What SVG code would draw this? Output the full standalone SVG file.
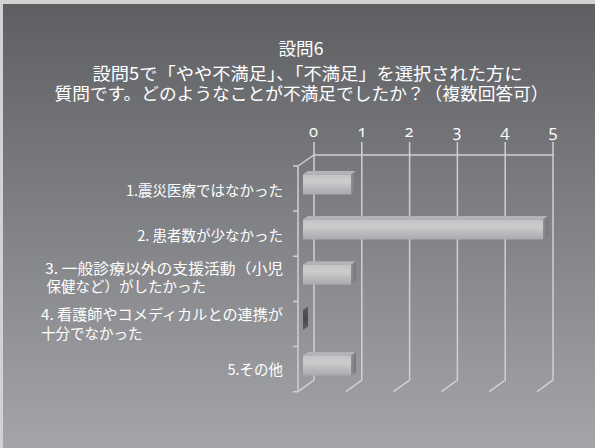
<svg xmlns="http://www.w3.org/2000/svg" width="595" height="448" viewBox="0 0 595 448">
<defs>
<linearGradient id="bg" x1="0" y1="0" x2="0" y2="1">
<stop offset="0" stop-color="#5e5f63"/>
<stop offset="1" stop-color="#a4a5a9"/>
</linearGradient>
<linearGradient id="barFront" x1="0" y1="0" x2="0" y2="1">
<stop offset="0" stop-color="#c2c3c5"/>
<stop offset="0.35" stop-color="#cbcccd"/>
<stop offset="1" stop-color="#a8a9ac"/>
</linearGradient>
<linearGradient id="barSide" x1="0" y1="0" x2="1" y2="0">
<stop offset="0" stop-color="#8e8f92"/>
<stop offset="1" stop-color="#75767a"/>
</linearGradient>
<linearGradient id="zeroBar" x1="0" y1="0" x2="0" y2="1">
<stop offset="0" stop-color="#5a5b5f"/>
<stop offset="0.5" stop-color="#48494d"/>
<stop offset="1" stop-color="#5e5f63"/>
</linearGradient>
<style>
.t{font-family:"Noto Sans CJK JP","Noto Sans",sans-serif;fill:#ffffff;}
.title{font-size:17.6px;text-anchor:middle;}
.lab{font-size:14.5px;}
.num{font-family:"Open Sans","Noto Sans",sans-serif;font-size:16.5px;fill:#ffffff;text-anchor:middle;font-feature-settings:"onum";}
.grid{stroke:#cfd0d2;stroke-width:1.5;fill:none;}
.front{fill:url(#barFront);}
.side{fill:url(#barSide);}
.top{fill:#b3b4b7;}
</style>
</defs>
<rect x="0" y="0" width="595" height="448" fill="#d2d2d2"/>
<rect x="3" y="4" width="592" height="444" fill="url(#bg)"/>

<g id="title">
<text class="t title" x="301" y="55">設問6</text>
<text class="t title" x="307.5" y="80" textLength="430" lengthAdjust="spacingAndGlyphs">設問5で「やや不満足」、「不満足」を選択された方に</text>
<text class="t title" x="301.5" y="100" textLength="494" lengthAdjust="spacingAndGlyphs">質問です。どのようなことが不満足でしたか？（複数回答可）</text>
</g>

<g id="axis-labels">
<text class="num" x="313.5" y="137">0</text>
<text class="num" x="362" y="137">1</text>
<text class="num" x="409" y="137">2</text>
<text class="num" x="457" y="137">3</text>
<text class="num" x="505" y="137">4</text>
<text class="num" x="553" y="137">5</text>
</g>

<g id="connectors">
<path class="grid" d="M314,142V380L298,391.7 M361.8,142V380L345.8,391.7 M409.6,142V380L393.6,391.7 M457.4,142V380L441.4,391.7 M505.2,142V380L489.2,391.7 M553,142V380L537,391.7"/>
<path class="grid" d="M314,155H554 M314,155L298,166 M298,166V391.7"/>
<path class="grid" d="M293,166H298 M293,211.1H298 M293,256.3H298 M293,301.4H298 M293,346.6H298 M293,391.7H298"/>
</g>

<g id="bar1">
<polygon class="top" points="303,174.5 308,171 356,171 351,174.5"/>
<polygon class="side" points="351,174.5 356,171 356,191 351,194.5"/>
<rect class="front" x="303" y="174.5" width="48" height="20"/>
</g>
<g id="bar2">
<polygon class="top" points="303,219.5 308,216 548,216 543,219.5"/>
<polygon class="side" points="543,219.5 548,216 548,236 543,239.5"/>
<rect class="front" x="303" y="219.5" width="240" height="20"/>
</g>
<g id="bar3">
<polygon class="top" points="303,264.7 308,261.2 356,261.2 351,264.7"/>
<polygon class="side" points="351,264.7 356,261.2 356,281.2 351,284.7"/>
<rect class="front" x="303" y="264.7" width="48" height="20"/>
</g>
<g id="bar4">
<polygon fill="url(#zeroBar)" points="303,310 308,306.5 308,326.5 303,330"/>
</g>
<g id="bar5">
<polygon class="top" points="303,355.5 308,352 356,352 351,355.5"/>
<polygon class="side" points="351,355.5 356,352 356,372 351,375.5"/>
<rect class="front" x="303" y="355.5" width="48" height="20"/>
</g>

<g id="label1"><text class="t lab" x="283" y="195.5" text-anchor="end">1.震災医療ではなかった</text></g>
<g id="label2"><text class="t lab" x="283" y="240.5" text-anchor="end">2. 患者数が少なかった</text></g>
<g id="label3">
<text class="t lab" x="45" y="274" textLength="238" lengthAdjust="spacingAndGlyphs">3. 一般診療以外の支援活動（小児</text>
<text class="t lab" x="46.5" y="292">保健など）がしたかった</text>
</g>
<g id="label4">
<text class="t lab" x="41" y="320" textLength="242" lengthAdjust="spacingAndGlyphs">4. 看護師やコメディカルとの連携が</text>
<text class="t lab" x="41" y="339">十分でなかった</text>
</g>
<g id="label5"><text class="t lab" x="283" y="374.5" text-anchor="end">5.その他</text></g>
</svg>
